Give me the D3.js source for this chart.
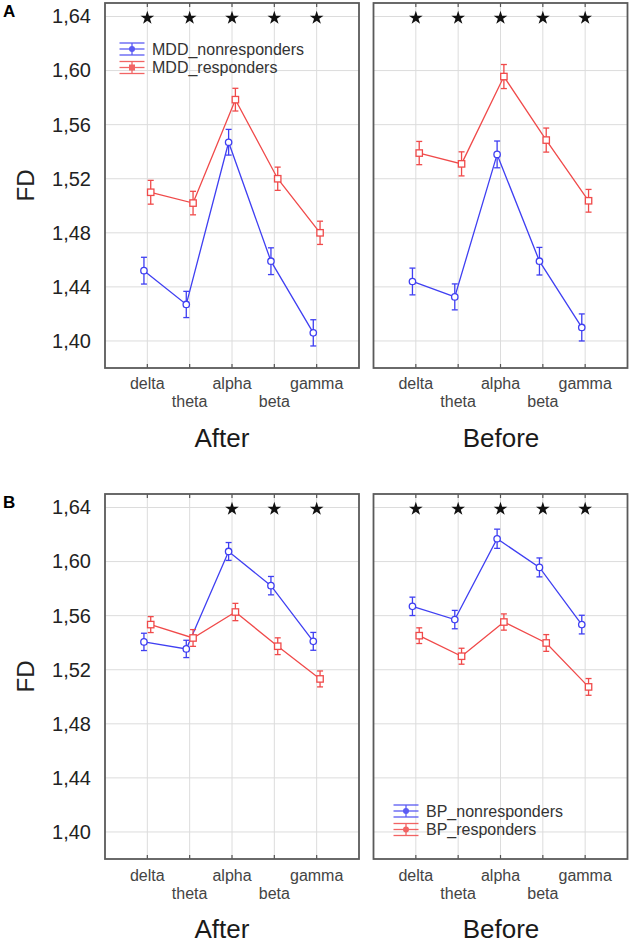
<!DOCTYPE html>
<html>
<head>
<meta charset="utf-8">
<script src="https://cdn.jsdelivr.net/npm/d3@7"></script>
<style>
  html, body { margin: 0; padding: 0; background: #fff; }
  svg { display: block; font-family: "Liberation Sans", Arial, sans-serif; }
</style>
</head>
<body>
<svg id="chart" width="633" height="944"></svg>
<script>
// ---------- DATA ----------
const categories = ["delta", "theta", "alpha", "beta", "gamma"];
const yTicks = [1.40, 1.44, 1.48, 1.52, 1.56, 1.60, 1.64];
const panelTitles = ["After", "Before"];

// Panel A (MDD)
const mddNonAfter      = [1.452, 1.427, 1.547, 1.459, 1.406];
const mddNonAfterErr   = [0.0099, 0.0097, 0.0095, 0.0099, 0.0097];
const mddRespAfter     = [1.510, 1.502, 1.5785, 1.520, 1.480];
const mddRespAfterErr  = [0.0088, 0.0087, 0.0084, 0.0086, 0.0086];
const mddNonBefore     = [1.444, 1.4326, 1.538, 1.459, 1.410];
const mddNonBeforeErr  = [0.0099, 0.0096, 0.0099, 0.0102, 0.0100];
const mddRespBefore    = [1.539, 1.531, 1.5956, 1.5486, 1.5037];
const mddRespBeforeErr = [0.0086, 0.0089, 0.0089, 0.0089, 0.0084];

// Panel B (BP)
const bpNonAfter      = [1.5406, 1.5354, 1.6075, 1.5822, 1.541];
const bpNonAfterErr   = [0.0064, 0.0064, 0.0066, 0.0068, 0.0066];
const bpRespAfter     = [1.5534, 1.5435, 1.5627, 1.5374, 1.5132];
const bpRespAfterErr  = [0.0059, 0.0062, 0.0064, 0.0062, 0.0059];
const bpNonBefore     = [1.5669, 1.5571, 1.6169, 1.5957, 1.5534];
const bpNonBeforeErr  = [0.0068, 0.0068, 0.0071, 0.0070, 0.0069];
const bpRespBefore    = [1.5452, 1.530, 1.5553, 1.5398, 1.5073];
const bpRespBeforeErr = [0.0058, 0.0059, 0.0060, 0.0062, 0.0062];

// significance stars per category
const sigAAfter  = [1, 1, 1, 1, 1];
const sigABefore = [1, 1, 1, 1, 1];
const sigBAfter  = [0, 0, 1, 1, 1];
const sigBBefore = [1, 1, 1, 1, 1];

const legendA = ["MDD_nonresponders", "MDD_responders"];
const legendB = ["BP_nonresponders", "BP_responders"];

// ---------- STYLE / LAYOUT ----------
const BLUE = "#3f3ff2";
const RED = "#f04a4a";
const svg = d3.select("#chart");
const fmt = d3.formatLocale({decimal: ",", thousands: ".", grouping: [3], currency: ["", ""]}).format(".2f");

const rows = [
  {letter: "A", top: 3, bottom: 368, catY1: 389, catY2: 407, titleY: 447,
   legend: legendA, legendX: 132, legendY: 49, legendSquare: true,
   panels: [
     {non: mddNonAfter, nonErr: mddNonAfterErr, resp: mddRespAfter, respErr: mddRespAfterErr, sig: sigAAfter},
     {non: mddNonBefore, nonErr: mddNonBeforeErr, resp: mddRespBefore, respErr: mddRespBeforeErr, sig: sigABefore}
   ]},
  {letter: "B", top: 494, bottom: 859, catY1: 881, catY2: 899, titleY: 938,
   legend: legendB, legendX: 406, legendY: 811, legendSquare: false,
   panels: [
     {non: bpNonAfter, nonErr: bpNonAfterErr, resp: bpRespAfter, respErr: bpRespAfterErr, sig: sigBAfter},
     {non: bpNonBefore, nonErr: bpNonBeforeErr, resp: bpRespBefore, respErr: bpRespBeforeErr, sig: sigBBefore}
   ]}
];
const panelX = [[105, 359], [373.5, 627.5]];
const titleX = [222, 501];

rows.forEach((row, ri) => {
  const y = d3.scaleLinear().domain([1.38, 1.65]).range([row.bottom, row.top]);

  // panel letter
  svg.append("text").attr("x", 3).attr("y", row.top + 14)
    .attr("font-size", 17).attr("font-weight", "bold").attr("fill", "#000")
    .text(row.letter);

  // y axis labels (left panel only)
  const yAxis = d3.axisLeft(y).tickValues(yTicks).tickFormat(fmt).tickSize(0).tickPadding(14);
  const ga = svg.append("g").attr("transform", `translate(${panelX[0][0]},0)`).call(yAxis);
  ga.select(".domain").remove();
  ga.selectAll("text").attr("font-size", 20).attr("fill", "#222")
    .attr("font-family", "'Liberation Sans', Arial, sans-serif");

  // FD label
  const cy = (row.top + row.bottom) / 2;
  svg.append("text").attr("transform", `translate(34,${cy}) rotate(-90)`)
    .attr("text-anchor", "middle").attr("font-size", 24).attr("fill", "#222").text("FD");

  row.panels.forEach((p, pi) => {
    const [x0, x1] = panelX[pi];
    const x = d3.scaleLinear().domain([0, categories.length + 1]).range([x0, x1]);
    const g = svg.append("g");

    // gridlines
    g.selectAll(".hg").data(yTicks).join("line")
      .attr("x1", x0).attr("x2", x1).attr("y1", d => y(d)).attr("y2", d => y(d))
      .attr("stroke", "#dcdcdc").attr("stroke-width", 1);
    g.selectAll(".vg").data(categories).join("line")
      .attr("x1", (d, i) => x(i + 1)).attr("x2", (d, i) => x(i + 1))
      .attr("y1", row.top).attr("y2", row.bottom)
      .attr("stroke", "#dcdcdc").attr("stroke-width", 1);

    // inner ticks top / bottom
    categories.forEach((c, i) => {
      g.append("line").attr("x1", x(i + 1)).attr("x2", x(i + 1))
        .attr("y1", row.bottom).attr("y2", row.bottom - 4).attr("stroke", "#555").attr("stroke-width", 1.2);
      g.append("line").attr("x1", x(i + 1)).attr("x2", x(i + 1))
        .attr("y1", row.top).attr("y2", row.top + 4).attr("stroke", "#555").attr("stroke-width", 1.2);
    });

    // frame
    g.append("rect").attr("x", x0).attr("y", row.top).attr("width", x1 - x0).attr("height", row.bottom - row.top)
      .attr("fill", "none").attr("stroke", "#5a5a5a").attr("stroke-width", 1.8);

    // category labels
    categories.forEach((c, i) => {
      g.append("text").attr("x", x(i + 1)).attr("y", i % 2 === 0 ? row.catY1 : row.catY2)
        .attr("text-anchor", "middle").attr("font-size", 16).attr("fill", "#444").text(c);
    });

    // title
    g.append("text").attr("x", titleX[pi]).attr("y", row.titleY).attr("text-anchor", "middle")
      .attr("font-size", 26).attr("fill", "#1a1a1a").text(panelTitles[pi]);

    // stars
    p.sig.forEach((s, i) => {
      if (!s) return;
      g.append("path").attr("d", d3.symbol(d3.symbolStar, 58)())
        .attr("transform", `translate(${x(i + 1)},${y(1.64) + 1.5})`)
        .attr("fill", "#111");
    });

    // series
    const series = [
      {vals: p.non, errs: p.nonErr, color: BLUE, off: -0.08, square: false},
      {vals: p.resp, errs: p.respErr, color: RED, off: 0.08, square: true}
    ];
    series.forEach(s => {
      const pts = s.vals.map((v, i) => ({x: x(i + 1 + s.off), y: y(v), lo: y(v - s.errs[i]), hi: y(v + s.errs[i])}));
      g.append("path").attr("d", d3.line().x(d => d.x).y(d => d.y)(pts))
        .attr("fill", "none").attr("stroke", s.color).attr("stroke-width", 1.3);
      pts.forEach(d => {
        g.append("line").attr("x1", d.x).attr("x2", d.x).attr("y1", d.lo).attr("y2", d.hi)
          .attr("stroke", s.color).attr("stroke-width", 1.3);
        [d.lo, d.hi].forEach(yy => g.append("line").attr("x1", d.x - 3).attr("x2", d.x + 3)
          .attr("y1", yy).attr("y2", yy).attr("stroke", s.color).attr("stroke-width", 1.3));
        if (s.square) {
          g.append("rect").attr("x", d.x - 3.2).attr("y", d.y - 3.2).attr("width", 6.4).attr("height", 6.4)
            .attr("fill", "#fff").attr("stroke", s.color).attr("stroke-width", 1.3);
        } else {
          g.append("circle").attr("cx", d.x).attr("cy", d.y).attr("r", 3.2)
            .attr("fill", "#fff").attr("stroke", s.color).attr("stroke-width", 1.3);
        }
      });
    });
  });

  // legend
  const colors = [BLUE, RED];
  row.legend.forEach((name, li) => {
    const ly = row.legendY + li * 18.5;
    const lx = row.legendX;
    const lg = svg.append("g").attr("opacity", 0.85);
    [-6, 0, 6].forEach(dy => lg.append("line").attr("x1", lx - 12.5).attr("x2", lx + 12.5)
      .attr("y1", ly + dy).attr("y2", ly + dy).attr("stroke", colors[li]).attr("stroke-width", 1.3));
    lg.append("line").attr("x1", lx).attr("x2", lx).attr("y1", ly - 6).attr("y2", ly + 6)
      .attr("stroke", colors[li]).attr("stroke-width", 1.3);
    if (li === 1 && row.legendSquare) {
      lg.append("rect").attr("x", lx - 3).attr("y", ly - 3).attr("width", 6).attr("height", 6)
        .attr("fill", colors[li]);
    } else {
      lg.append("circle").attr("cx", lx).attr("cy", ly).attr("r", 3).attr("fill", colors[li]);
    }
    svg.append("text").attr("x", lx + 20).attr("y", ly + 5.5).attr("font-size", 16)
      .attr("fill", "#333").text(name);
  });
});
</script>
</body>
</html>
